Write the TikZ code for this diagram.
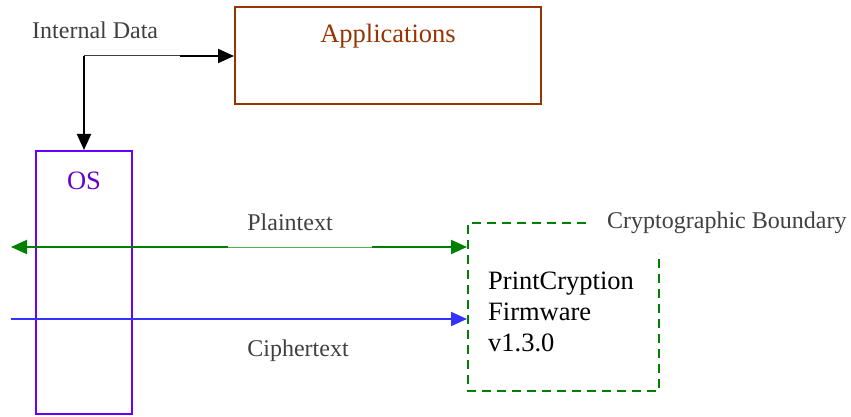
\documentclass[tikz,border=0pt]{standalone}
\usepackage{fontspec}
\setmainfont{Liberation Serif}
\usetikzlibrary{arrows.meta}
\definecolor{lbl}{HTML}{404040}
\definecolor{appc}{HTML}{993300}
\definecolor{osc}{HTML}{6600FF}
\definecolor{ostx}{HTML}{6600CC}
\definecolor{grn}{HTML}{008000}
\definecolor{lgrn}{HTML}{55B055}
\definecolor{blu}{HTML}{3333FF}
\tikzset{
  lab/.style={text=lbl,font=\fontsize{24}{28}\selectfont,inner sep=0pt},
  tip/.style={-{Triangle[length=16pt,width=14pt]}},
  thick2/.style={line width=2pt},
}
\begin{document}
\begin{tikzpicture}[x=1pt,y=-1pt]
\useasboundingbox (0,0) rectangle (851,417);
% boxes
\node[draw=appc,thick2,minimum width=306pt,minimum height=97pt,inner sep=0pt] (app) at (388,55.5) {};
\node[text=appc,font=\fontsize{26.5}{30}\selectfont,inner sep=0pt] (apptxt) at (388,36) {Applications};
\node[draw=osc,thick2,minimum width=96pt,minimum height=263pt,inner sep=0pt] (os) at (84,282.5) {};
\node[text=ostx,font=\fontsize{26.5}{30}\selectfont,inner sep=0pt] (ostxt) at (84,181) {OS};
% internal data
\node[lab,anchor=base west] (intd) at (32,39) {Internal Data};
\coordinate (corner) at (84,56);
\coordinate (mid) at (180,56);
\draw[line width=1pt,draw=lbl] (corner) -- (mid);
\draw[thick2,tip] (mid) -- (app.west |- mid);
\draw[thick2,tip] (corner) -- (os.north);
% boundary
\coordinate (b1) at (586,223);
\coordinate (b2) at (468,223);
\coordinate (b3) at (468,391);
\coordinate (b4) at (659,391);
\coordinate (b5) at (659,253);
\draw[grn,thick2,dash pattern=on 9pt off 6pt] (b1) -- (b2) -- (b3) -- (b4) -- (b5);
\node[lab,anchor=west] (cb) at (607,223) {Cryptographic Boundary};
\node[anchor=base west,align=left,font=\fontsize{26.5}{31}\selectfont,inner sep=0pt] (fw) at (488,351) {PrintCryption\\Firmware\\v1.3.0};
% plaintext
\coordinate (pl) at (11,247);
\coordinate (pr) at (467,247);
\coordinate (pm1) at (228,247);
\coordinate (pm2) at (372,247);
\draw[lgrn,line width=1pt] (pm1) -- (pm2);
\draw[grn,thick2,{Triangle[length=16pt,width=14pt]}-] (pl) -- (pm1);
\draw[grn,thick2,tip] (pm2) -- (pr);
\node[lab] (pt) at (290,222) {Plaintext};
% ciphertext
\coordinate (cl) at (11,319);
\coordinate (cr) at (467,319);
\draw[blu,thick2,tip] (cl) -- (cr);
\node[lab] (ct) at (298,351) {Ciphertext};
\end{tikzpicture}
\end{document}
